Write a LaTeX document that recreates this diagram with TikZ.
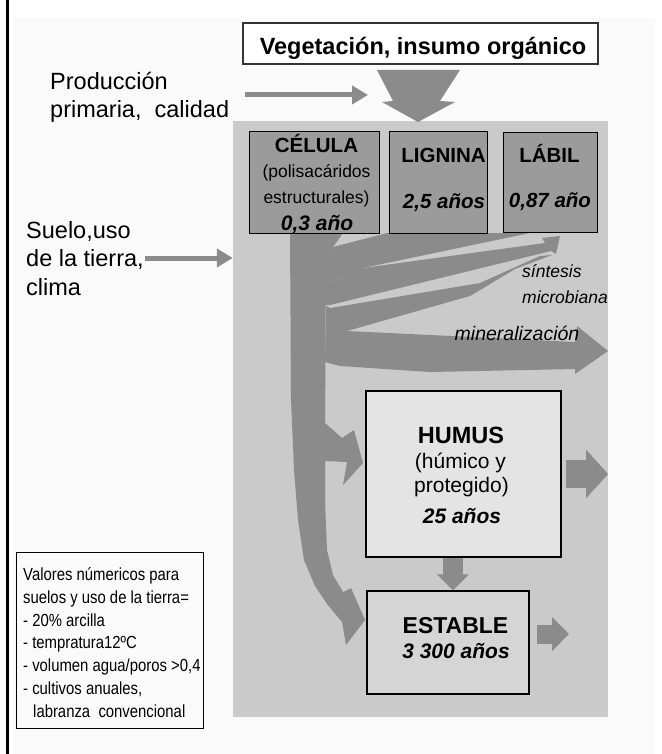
\documentclass[tikz,border=0pt]{standalone}
\usepackage{fontspec}
\setmainfont{Liberation Sans}
\newfontfamily\estrecha[FakeStretch=0.85]{Liberation Sans}
\usetikzlibrary{arrows.meta, positioning}

\definecolor{fondo}{HTML}{FAFAFA}
\definecolor{panelgris}{HTML}{CACACA}
\definecolor{cajagris}{HTML}{9B9B9B}
\definecolor{flujogris}{HTML}{8B8B8B}
\definecolor{humusgris}{HTML}{E4E4E4}
\definecolor{establegris}{HTML}{D5D5D5}

\newcommand{\letra}[1]{\fontsize{#1}{#1}\selectfont}

\tikzset{
  caja/.style={draw=black, line width=1pt, fill=cajagris, inner sep=0pt},
  flujo/.style={fill=flujogris},
  flecha/.style={draw=flujogris, line width=5pt, -{Triangle[length=16pt,width=18pt]}},
  txt/.style={inner sep=0pt, anchor=base},
  txtizq/.style={inner sep=0pt, anchor=base west},
}

\begin{document}
\begin{tikzpicture}[x=1pt, y=-1pt]
    \useasboundingbox (0,0) rectangle (661,754);
    % Fondo y borde izquierdo
    \fill[fondo] (13,18) rectangle (655,754);
    \fill[black] (6,0) rectangle (9,754);
    % Panel gris
    \node[fill=panelgris, inner sep=0pt, minimum width=375pt, minimum height=596pt] (panel) at (420.5,419) {};
    % Vegetación
    \node[draw=black!80, line width=1.2pt, fill=white, inner sep=0pt, minimum width=355pt, minimum height=41pt] (veg) at (420.5,43.5) {};
    \node[txt, font={\bfseries\letra{23.5}}] (vegtxt) at (423,55) {Vegetación, insumo orgánico};
    % Flecha gruesa de entrada
    \fill[flujo] (377,70) -- (460,70) -- (440,101) -- (455,102) -- (418,122) -- (382,102) -- (393,101) -- cycle;
    % Producción primaria
    \node[txtizq, font={\letra{23.5}}] (prod1) at (50,90) {Producción};
    \node[txtizq, font={\letra{23.5}}] (prod2) at (50,118) {primaria,\ \ calidad};
    \coordinate (prodini) at (245,95);
    \coordinate (prodfin) at (368,95);
    \draw[flecha] (prodini) -- (prodfin);
    % Suelo, clima
    \node[txtizq, font={\letra{23.5}}] (suelo1) at (26,238) {Suelo,uso};
    \node[txtizq, font={\letra{23.5}}] (suelo2) at (26,266) {de la tierra,};
    \node[txtizq, font={\letra{23.5}}] (suelo3) at (26,295) {clima};
    \coordinate (sueloini) at (145,258);
    \draw[flecha] (sueloini) -- (sueloini -| panel.west);

    % Tronco hacia ESTABLE
    \fill[flujo] (290,233) -- (343,233) -- (333,247) -- (326,262) -- (325,430) -- (325,500) -- (327,550) -- (333,575) -- (343,592) -- (351,588) -- (365,620) -- (346,645) -- (342,622) -- (327,604) -- (315,586) -- (304,560) -- (298,520) -- (294,470) -- (291,400) -- cycle;
    % Entrada de LIGNINA y LÁBIL
    \fill[flujo] (387,233) -- (530,233) -- (363,268) -- (326,284) -- (326,262) -- (333,247) -- cycle;
    % Síntesis microbiana
    \fill[flujo] (326,284) -- (363,268) -- (545,243) -- (542,238) -- (560,236) -- (556,254) -- (551,251) -- (330,305) -- (326,305) -- cycle;
    \fill[flujo] (326,306) -- (330,308) -- (480,283) -- (540,256) -- (552,255) -- (515,269) -- (470,296) -- (347,331) -- (326,331) -- cycle;
    % Mineralización
    \fill[flujo] (326,331) -- (347,331) -- (575,342) -- (577,326) -- (608,351) -- (575,374) -- (575,369) -- (430,372) -- (340,366) -- (325,362) -- cycle;
    % Hacia HUMUS
    \fill[flujo] (325,423) -- (342,438) -- (354,430) -- (363,463) -- (343,485) -- (347,462) -- (325,461) -- cycle;

    % Compartimentos
    \node[caja, minimum width=130pt, minimum height=101pt] (celula) at (314,182.5) {};
    \node[caja, minimum width=98pt, minimum height=101pt, right=9pt of celula] (lignina) {};
    \node[caja, minimum width=94pt, minimum height=99pt, right=15pt of lignina] (labil) {};
    \node[txt, font={\bfseries\letra{20.5}}] (celulatit) at (316.5,153) {CÉLULA};
    \node[txt, font={\letra{17.5}}] (celula1) at (316.5,178) {(polisacáridos};
    \node[txt, font={\letra{17.5}}] (celula2) at (316.5,203.5) {estructurales)};
    \node[txt, font={\bfseries\itshape\letra{21}}] (celulaedad) at (317,230.5) {0,3 año};
    \node[txt, font={\bfseries\letra{20.5}}] (ligninatit) at (443.5,163) {LIGNINA};
    \node[txt, font={\bfseries\itshape\letra{20.5}}] (ligninaedad) at (444,208) {2,5 años};
    \node[txt, font={\bfseries\letra{20.5}}] (labiltit) at (549.5,163) {LÁBIL};
    \node[txt, font={\bfseries\itshape\letra{20.5}}] (labiledad) at (550,207) {0,87 año};

    % Rótulos de los flujos
    \node[txtizq, font={\itshape\letra{17.5}}] (sintesis1) at (522,277) {síntesis};
    \node[txtizq, font={\itshape\letra{17.5}}] (sintesis2) at (522,303) {microbiana};
    \node[txt, font={\itshape\letra{19.5}}] (mineral) at (517,340) {mineralización};

    % HUMUS y ESTABLE
    \node[draw=black, line width=1.2pt, fill=humusgris, inner sep=0pt, minimum width=195pt, minimum height=166pt] (humus) at (463.5,474) {};
    \node[txt, font={\bfseries\letra{23.5}}] (humustit) at (461,443) {HUMUS};
    \node[txt, font={\letra{21}}] (humus1) at (460.5,468.5) {(húmico y};
    \node[txt, font={\letra{21}}] (humus2) at (461.5,492.5) {protegido)};
    \node[txt, font={\bfseries\itshape\letra{21}}] (humusedad) at (462,523) {25 años};
    \node[draw=black, line width=1.2pt, fill=establegris, inner sep=0pt, minimum width=162pt, minimum height=103pt] (estable) at (448,642.5) {};
    \node[txt, font={\bfseries\letra{23}}] (establetit) at (455.5,633) {ESTABLE};
    \node[txt, font={\bfseries\itshape\letra{21}}] (estableedad) at (456,658) {3 300 años};
    % Flechas de HUMUS y ESTABLE
    \draw[flecha, line width=20pt, -{Triangle[length=16pt,width=31pt]}] ([xshift=-10.5pt]humus.south) -- ([xshift=-10.5pt]humus.south |- estable.north);
    \draw[flecha, line width=28pt, -{Triangle[length=22pt,width=47pt]}] ([xshift=4pt]humus.east) -- (humus.east -| panel.east);
    \coordinate (estsal) at (569,634);
    \draw[flecha, line width=19pt, -{Triangle[length=17pt,width=33pt]}] ([xshift=7pt]estable.east |- estsal) -- (estsal);

    % Leyenda
    \node[draw=black, line width=1pt, fill=fondo, inner sep=0pt, minimum width=187pt, minimum height=176pt] (leyenda) at (109.5,640) {};
    \node[txtizq, font={\estrecha\letra{17.5}}] (ley1) at (23,580) {Valores númericos para};
    \node[txtizq, font={\estrecha\letra{17.5}}] (ley2) at (23,603) {suelos y uso de la tierra=};
    \node[txtizq, font={\estrecha\letra{17.5}}] (ley3) at (23,626) {- 20\% arcilla};
    \node[txtizq, font={\estrecha\letra{17.5}}] (ley4) at (23,648) {- tempratura12ºC};
    \node[txtizq, font={\estrecha\letra{17.5}}] (ley5) at (23,671) {- volumen agua/poros >0,4};
    \node[txtizq, font={\estrecha\letra{17.5}}] (ley6) at (23,694) {- cultivos anuales,};
    \node[txtizq, font={\estrecha\letra{17.5}}] (ley7) at (33,717) {labranza\ \ convencional};
\end{tikzpicture}
\end{document}
